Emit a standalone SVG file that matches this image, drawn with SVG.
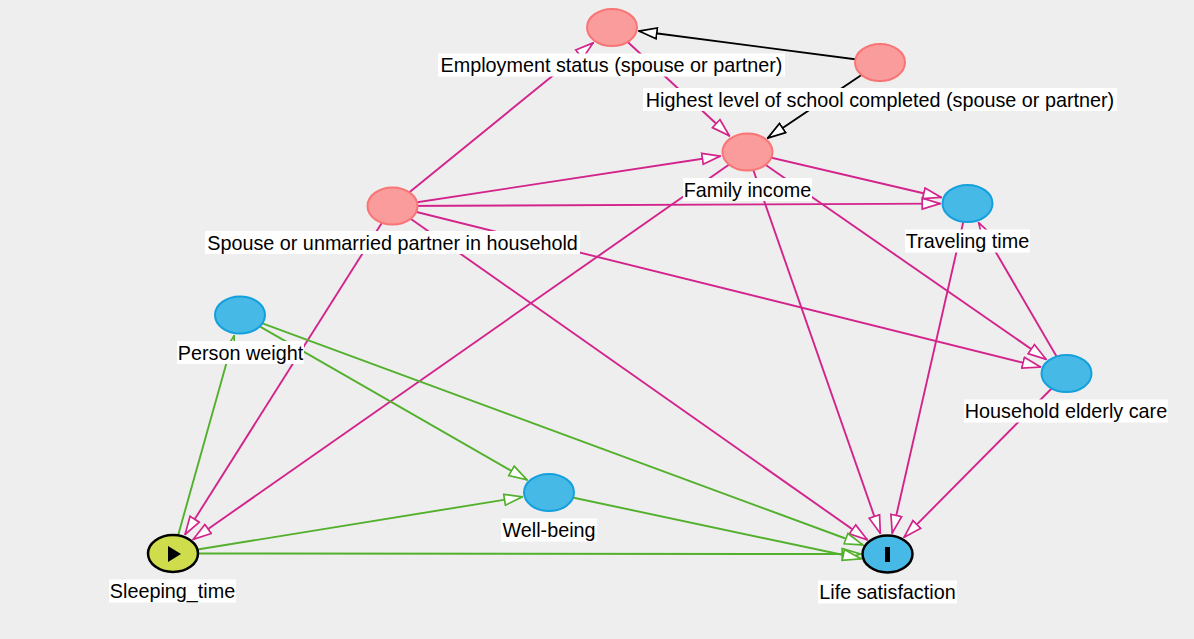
<svg xmlns="http://www.w3.org/2000/svg" width="1194" height="639" viewBox="0 0 1194 639">
<style>
.bg{fill:#eeeeee}
.e{fill:none;stroke-width:1.9}
.pk{stroke:#d3248c;marker-end:url(#ap)}
.gr{stroke:#52b02c;marker-end:url(#ag)}
.bk{stroke:#000;marker-end:url(#ab)}
.nc{fill:#fa9c9c;stroke:#f97575;stroke-width:2}
.na{fill:#47b9e6;stroke:#14a0dc;stroke-width:2}
.nx{fill:#cfdc4c;stroke:#000;stroke-width:2.5}
.no{fill:#47b9e6;stroke:#000;stroke-width:2.5}
.lb{fill:#fff}
.t{font-family:"Liberation Sans",Arial,sans-serif;font-size:19.8px;fill:#000;text-anchor:middle}
</style>
<defs>
<marker id="ap" viewBox="0 0 20 14" refX="19.3" refY="7" markerWidth="20" markerHeight="14" markerUnits="userSpaceOnUse" orient="auto"><path d="M1,1.5 L19,7 L1,12.5 Z" fill="#fff" stroke="#d3248c" stroke-width="1.7"/></marker>
<marker id="ag" viewBox="0 0 20 14" refX="19.3" refY="7" markerWidth="20" markerHeight="14" markerUnits="userSpaceOnUse" orient="auto"><path d="M1,1.5 L19,7 L1,12.5 Z" fill="#fff" stroke="#52b02c" stroke-width="1.7"/></marker>
<marker id="ab" viewBox="0 0 20 14" refX="19.3" refY="7" markerWidth="20" markerHeight="14" markerUnits="userSpaceOnUse" orient="auto"><path d="M1,1.5 L19,7 L1,12.5 Z" fill="#fff" stroke="#000" stroke-width="1.7"/></marker>
</defs>
<rect class="bg" x="0" y="0" width="1194" height="639"/>
<g id="edges">
<line class="e bk" x1="880" y1="62.5" x2="638.6" y2="31"/>
<line class="e bk" x1="880" y1="62.5" x2="767.4" y2="138.3"/>
<line class="e pk" x1="612" y1="27.5" x2="729.6" y2="136"/>
<line class="e pk" x1="392.5" y1="206" x2="593.3" y2="42.7"/>
<line class="e pk" x1="392.5" y1="206" x2="720.5" y2="156"/>
<line class="e pk" x1="392.5" y1="206" x2="940.5" y2="203.6"/>
<line class="e pk" x1="392.5" y1="206" x2="1040.8" y2="367.1"/>
<line class="e pk" x1="392.5" y1="206" x2="867.5" y2="539.9"/>
<line class="e pk" x1="392.5" y1="206" x2="184.9" y2="534.7"/>
<line class="e pk" x1="747" y1="152" x2="941.6" y2="197.5"/>
<line class="e pk" x1="747" y1="152" x2="1046.3" y2="359.5"/>
<line class="e pk" x1="747" y1="152" x2="880.4" y2="533.7"/>
<line class="e pk" x1="747" y1="152" x2="193.1" y2="539.5"/>
<line class="e pk" x1="967.5" y1="203.5" x2="892.2" y2="533.3"/>
<line class="e pk" x1="1066.5" y1="373.5" x2="978.6" y2="222.6"/>
<line class="e pk" x1="1066.5" y1="373.5" x2="904" y2="537.4"/>
<line class="e gr" x1="173" y1="553.5" x2="234.2" y2="335.5"/>
<line class="e gr" x1="240" y1="315" x2="527.3" y2="480"/>
<line class="e gr" x1="240" y1="315" x2="863.1" y2="545"/>
<line class="e gr" x1="173" y1="553.5" x2="522.6" y2="496.8"/>
<line class="e gr" x1="173" y1="553.5" x2="860.5" y2="554"/>
<line class="e gr" x1="549" y1="492.5" x2="861.2" y2="558.8"/>
</g>
<g id="node-employment">
<ellipse class="nc" cx="612" cy="27.5" rx="25" ry="18.5"/>
<rect class="lb" x="438" y="53.5" width="347" height="23"/>
<text class="t" x="611.5" y="72">Employment status (spouse or partner)</text>
</g>
<g id="node-school">
<ellipse class="nc" cx="880" cy="62.5" rx="25" ry="18.5"/>
<rect class="lb" x="643" y="88" width="474" height="23"/>
<text class="t" x="880" y="106.5">Highest level of school completed (spouse or partner)</text>
</g>
<g id="node-income">
<ellipse class="nc" cx="747.5" cy="152" rx="25" ry="18.5"/>
<rect class="lb" x="683" y="178" width="129" height="23"/>
<text class="t" x="747.5" y="196.5">Family income</text>
</g>
<g id="node-spouse">
<ellipse class="nc" cx="392.5" cy="206" rx="25" ry="18.5"/>
<rect class="lb" x="205" y="231" width="375" height="23"/>
<text class="t" x="392.5" y="249.5">Spouse or unmarried partner in household</text>
</g>
<g id="node-traveling">
<ellipse class="na" cx="967.5" cy="203.5" rx="25" ry="18.5"/>
<rect class="lb" x="905" y="229.5" width="125" height="23"/>
<text class="t" x="967.5" y="248">Traveling time</text>
</g>
<g id="node-weight">
<ellipse class="na" cx="240" cy="315" rx="25" ry="18.5"/>
<rect class="lb" x="177" y="341" width="127" height="23"/>
<text class="t" x="240.5" y="359.5">Person weight</text>
</g>
<g id="node-elderly">
<ellipse class="na" cx="1066.5" cy="373.5" rx="25" ry="18.5"/>
<rect class="lb" x="964" y="399.5" width="204" height="23"/>
<text class="t" x="1066" y="418">Household elderly care</text>
</g>
<g id="node-wellbeing">
<ellipse class="na" cx="549" cy="492.5" rx="25" ry="18.5"/>
<rect class="lb" x="501" y="518.5" width="96" height="23"/>
<text class="t" x="549" y="537">Well-being</text>
</g>
<g id="node-sleeping">
<ellipse class="nx" cx="173" cy="553.5" rx="25" ry="18.5"/>
<path d="M168,546 L181,554 L168,562 Z" fill="#000"/>
<rect class="lb" x="109" y="579.5" width="127" height="23"/>
<text class="t" x="172.5" y="598">Sleeping_time</text>
</g>
<g id="node-life">
<ellipse class="no" cx="887.5" cy="554" rx="25" ry="18.5"/>
<rect x="885" y="547" width="5" height="15" fill="#000"/>
<rect class="lb" x="818" y="580.5" width="139" height="23"/>
<text class="t" x="887.5" y="599">Life satisfaction</text>
</g>
</svg>
